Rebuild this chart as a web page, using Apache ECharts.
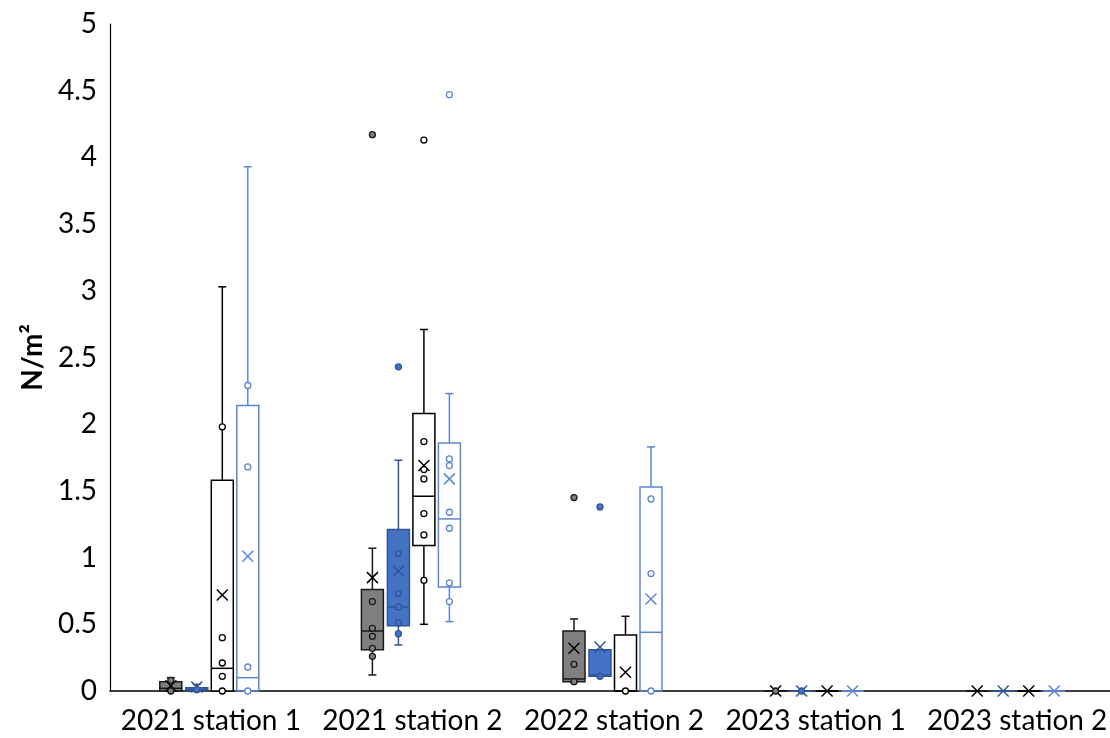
<!DOCTYPE html>
<html>
<head>
<meta charset="utf-8">
<script src="https://cdn.jsdelivr.net/npm/echarts@6/dist/echarts.min.js"></script>
<style>
  html, body { margin: 0; padding: 0; background: #fff; }
  #chart { width: 1110px; height: 738px; }
</style>
</head>
<body>
<div id="chart"></div>
<script>
// Catégories de l'axe x
const categories = ["2021 station 1", "2021 station 2", "2022 station 2", "2023 station 1", "2023 station 2"];
const yTicks = [0, 0.5, 1, 1.5, 2, 2.5, 3, 3.5, 4, 4.5, 5];

// Boîtes : [min, q1, médiane, q3, max] par catégorie
const greyBoxes = [[0, 0, 0.02, 0.07, 0.1], [0.12, 0.31, 0.45, 0.76, 1.07], [0.07, 0.07, 0.09, 0.45, 0.54], [0, 0, 0, 0, 0], [0, 0, 0, 0, 0]];
const blueBoxes = [[0, 0.005, 0.01, 0.025, 0.05], [0.345, 0.49, 0.63, 1.21, 1.73], [0.11, 0.11, 0.12, 0.31, 0.31], [0, 0, 0, 0, 0], [0, 0, 0, 0, 0]];
const whiteBoxes = [[0, 0, 0.17, 1.58, 3.03], [0.5, 1.09, 1.46, 2.08, 2.71], [0, 0, 0, 0.42, 0.56], [0, 0, 0, 0, 0], [0, 0, 0, 0, 0]];
const lightBoxes = [[0, 0, 0.1, 2.14, 3.93], [0.52, 0.78, 1.29, 1.86, 2.23], [0, 0, 0.44, 1.53, 1.83], [0, 0, 0, 0, 0], [0, 0, 0, 0, 0]];

// Moyennes (croix)
const greyMeans = [0.04, 0.85, 0.32, 0, 0];
const blueMeans = [0.03, 0.9, 0.33, 0, 0];
const whiteMeans = [0.72, 1.69, 0.14, 0, 0];
const lightMeans = [1.01, 1.59, 0.69, 0, 0];

// Points : [index catégorie, valeur]
const greyPoints = [[0, 0.08], [0, 0], [1, 0.67], [1, 0.47], [1, 0.41], [1, 0.32], [1, 0.26], [2, 0.2], [2, 0.07], [3, 0]];
const bluePoints = [[0, 0.01], [1, 1.03], [1, 0.73], [1, 0.63], [1, 0.51], [1, 0.43], [2, 0.11], [3, 0]];
const whitePoints = [[0, 1.98], [0, 0.4], [0, 0.21], [0, 0.11], [0, 0], [1, 1.87], [1, 1.66], [1, 1.59], [1, 1.33], [1, 1.17], [1, 0.83], [2, 0]];
const lightPoints = [[0, 2.29], [0, 1.68], [0, 0.18], [0, 0], [1, 1.74], [1, 1.69], [1, 1.34], [1, 1.22], [1, 0.81], [1, 0.67], [2, 1.44], [2, 0.88], [2, 0]];

// Valeurs aberrantes
const greyOutliers = [[1, 4.17], [2, 1.45]];
const blueOutliers = [[1, 2.43], [2, 1.38]];
const whiteOutliers = [[1, 4.13]];
const lightOutliers = [[1, 4.47]];

const chart = echarts.init(document.getElementById("chart"));
const font = "Lato, 'Open Sans', sans-serif";

// Styles des quatre séries
const styles = [
  { boxes: greyBoxes, means: greyMeans, points: greyPoints, outliers: greyOutliers, offset: -40, fill: "#7f7f7f", stroke: "#1a1a1a", mean: "#000", ptFill: "#7f7f7f", ptStroke: "#1a1a1a" },
  { boxes: blueBoxes, means: blueMeans, points: bluePoints, outliers: blueOutliers, offset: -14, fill: "#4472c4", stroke: "#2f5597", mean: "#2f5597", ptFill: "#4472c4", ptStroke: "#2f5597" },
  { boxes: whiteBoxes, means: whiteMeans, points: whitePoints, outliers: whiteOutliers, offset: 11.5, fill: "#ffffff", stroke: "#000", mean: "#000", ptFill: "#ffffff", ptStroke: "#000" },
  { boxes: lightBoxes, means: lightMeans, points: lightPoints, outliers: lightOutliers, offset: 37, fill: "rgba(255,255,255,0)", stroke: "#5b86d4", mean: "#5b86d4", ptFill: "#ffffff", ptStroke: "#5b86d4" },
];

const boxWidth = 22;
const capWidth = 8;

function boxSeries(s) {
  return {
    type: "custom",
    z: 2,
    data: s.boxes.map((b, i) => [i].concat(b).concat([s.means[i]])),
    renderItem: (params, api) => {
      const cat = api.value(0);
      const x = api.coord([cat, 0])[0] + s.offset;
      const y = (k) => api.coord([cat, api.value(k)])[1];
      const yMin = y(1), yQ1 = y(2), yMed = y(3), yQ3 = y(4), yMax = y(5), yMean = y(6);
      const line = { stroke: s.stroke, lineWidth: 1.5 };
      const children = [
        { type: "line", shape: { x1: x, y1: yQ3, x2: x, y2: yMax }, style: line },
        { type: "line", shape: { x1: x - capWidth / 2, y1: yMax, x2: x + capWidth / 2, y2: yMax }, style: line },
        { type: "line", shape: { x1: x, y1: yQ1, x2: x, y2: yMin }, style: line },
        { type: "line", shape: { x1: x - capWidth / 2, y1: yMin, x2: x + capWidth / 2, y2: yMin }, style: line },
        { type: "rect", shape: { x: x - boxWidth / 2, y: yQ3, width: boxWidth, height: yQ1 - yQ3 }, style: { fill: s.fill, stroke: s.stroke, lineWidth: 1.5 } },
        { type: "line", shape: { x1: x - boxWidth / 2, y1: yMed, x2: x + boxWidth / 2, y2: yMed }, style: line },
      ];
      const m = 5.5;
      children.push(
        { type: "line", z2: 10, shape: { x1: x - m, y1: yMean - m, x2: x + m, y2: yMean + m }, style: { stroke: s.mean, lineWidth: 1.5 } },
        { type: "line", z2: 10, shape: { x1: x - m, y1: yMean + m, x2: x + m, y2: yMean - m }, style: { stroke: s.mean, lineWidth: 1.5 } }
      );
      return { type: "group", children: children };
    },
  };
}

function pointSeries(s) {
  return {
    type: "scatter",
    z: 3,
    data: s.points.concat(s.outliers),
    symbol: "circle",
    symbolSize: 6,
    symbolOffset: [s.offset, 0],
    itemStyle: { color: s.ptFill, borderColor: s.ptStroke, borderWidth: 1.3, opacity: 1 },
    silent: true,
  };
}

const options = {
  animation: false,
  grid: { left: 110, right: -8, top: 24, bottom: 47, outerBoundsMode: "none", containLabel: false },
  xAxis: {
    type: "category",
    data: categories,
    axisLine: { lineStyle: { color: "#000", width: 1.5 } },
    axisTick: { show: false },
    axisLabel: { color: "#000", fontSize: 28, fontFamily: font, margin: 16, interval: 0 },
  },
  yAxis: {
    type: "value",
    min: yTicks[0],
    max: yTicks[yTicks.length - 1],
    interval: 0.5,
    name: "N/m²",
    nameLocation: "middle",
    nameGap: 57,
    nameRotate: 90,
    nameTextStyle: { color: "#000", fontSize: 28, fontWeight: "bold", fontFamily: font },
    axisLine: { show: true, lineStyle: { color: "#000", width: 1.2 } },
    axisTick: { show: false },
    splitLine: { show: false },
    axisLabel: { color: "#000", fontSize: 28, fontFamily: font, margin: 13 },
  },
  series: styles.map(boxSeries).concat(styles.map(pointSeries)),
};

chart.setOption(options);
</script>
</body>
</html>
